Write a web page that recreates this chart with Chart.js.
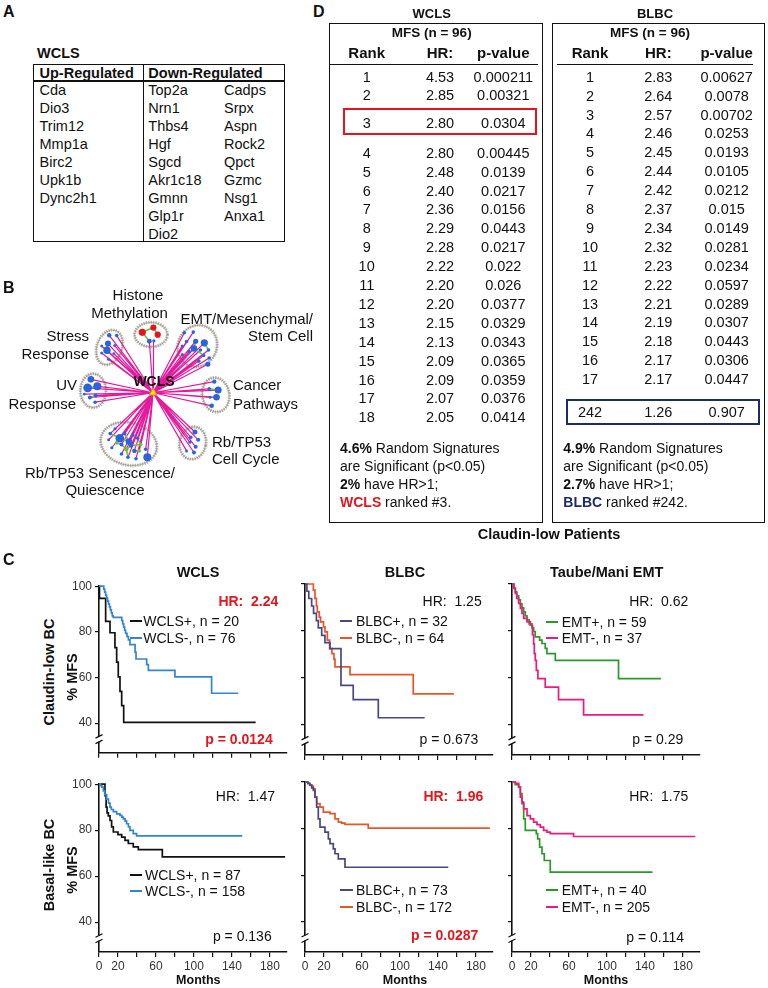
<!DOCTYPE html>
<html><head><meta charset="utf-8">
<script src="https://cdn.jsdelivr.net/npm/chart.js@4.4.0/dist/chart.umd.min.js"></script>
<style>
html,body{margin:0;padding:0;background:#fff;}
#root{position:relative;width:768px;height:988px;overflow:hidden;font-family:"Liberation Sans",Arial,Helvetica,sans-serif;color:#111;}
.t{position:absolute;white-space:pre;line-height:1;z-index:5;}
.bx{position:absolute;box-sizing:border-box;z-index:4;}
canvas{position:absolute;}
</style></head><body><div id="root"></div>
<script>
const FONT='"Liberation Sans", Arial, Helvetica, sans-serif';
// ---------------- Panel A data ----------------
const upRegulated=['Cda','Dio3','Trim12','Mmp1a','Birc2','Upk1b','Dync2h1'];
const downRegulatedA=['Top2a','Nrn1','Thbs4','Hgf','Sgcd','Akr1c18','Gmnn','Glp1r','Dio2'];
const downRegulatedB=['Cadps','Srpx','Aspn','Rock2','Qpct','Gzmc','Nsg1','Anxa1'];
// ---------------- Panel D data ----------------
const wclsRank=[1,2,3,4,5,6,7,8,9,10,11,12,13,14,15,16,17,18];
const wclsHR=['4.53','2.85','2.80','2.80','2.48','2.40','2.36','2.29','2.28','2.22','2.20','2.20','2.15','2.13','2.09','2.09','2.07','2.05'];
const wclsP=['0.000211','0.00321','0.0304','0.00445','0.0139','0.0217','0.0156','0.0443','0.0217','0.022','0.026','0.0377','0.0329','0.0343','0.0365','0.0359','0.0376','0.0414'];
const blbcRank=[1,2,3,4,5,6,7,8,9,10,11,12,13,14,15,16,17];
const blbcHR=['2.83','2.64','2.57','2.46','2.45','2.44','2.42','2.37','2.34','2.32','2.23','2.22','2.21','2.19','2.18','2.17','2.17'];
const blbcP=['0.00627','0.0078','0.00702','0.0253','0.0193','0.0105','0.0212','0.015','0.0149','0.0281','0.0234','0.0597','0.0289','0.0307','0.0443','0.0306','0.0447'];
const blbcOwnRow=['242','1.26','0.907'];
// ---------------- Panel C data: [months, % MFS] ----------------
const xTickValues=[0,20,40,60,80,100,120,140,160,180];
const xTickLabels=[0,20,60,100,140,180];
const yTickValues=[40,60,80,100];
const wclsClaudinPos=[[0,100],[0.5,94.7],[7,84.6],[11.6,79.6],[16.8,73.1],[18.6,66.7],[20.3,60.3],[22.1,53.9],[23.9,47.7],[26,40.3],[165,40.3]];
const wclsClaudinNeg=[[0,100],[5,98.7],[6,97.4],[7,96.1],[8,94.8],[9,93.5],[10,92.2],[11,90.9],[12,89.6],[13,88.3],[14,87],[15,86.3],[24,84.9],[25,83.5],[26,82.1],[27,80.7],[28,79.3],[29.5,77.9],[31,76.5],[32.6,74.4],[38,71.1],[39,68.1],[50.2,65.6],[52,63.1],[80,60.3],[118.6,53.1],[146.6,53.1]];
const blbcClaudinPos=[[0,100],[2,96.9],[4,93.8],[7,90.6],[9,87.5],[12,84.4],[14,81.3],[17.6,78.1],[21,75],[26.3,72.4],[37.9,56.7],[50.8,50.6],[77.2,42.9],[126,42.9]];
const blbcClaudinNeg=[[0,100],[8.8,97.4],[10.5,93.9],[12,90.6],[13,88.1],[15,85.9],[16.4,83.8],[19.5,81.7],[21,79.6],[23.5,76],[25.9,72.4],[28.4,70.3],[30.5,67.9],[31.6,64.6],[47.4,61.3],[114,53.1],[156.8,53.1]];
const emtClaudinPos=[[0,100],[2,98.3],[3.5,96.6],[5,94.9],[7,93.2],[8.8,91.5],[10.5,89.8],[12.3,88.1],[14,86.4],[15.8,84.7],[18,83],[21,81.4],[22.8,79.7],[24.5,77.4],[29.1,76],[31.6,74.6],[35,72.5],[36.8,70.3],[45.6,67.4],[112.2,59.6],[156.8,59.6]];
const emtClaudinNeg=[[0,100],[2,98.1],[3.5,96],[5,93.9],[7,91.7],[8.8,89.6],[10.5,87.4],[12.3,85.3],[15.8,83.8],[19.3,82.4],[21.5,78.4],[22.8,74.4],[23.5,70.3],[24.5,67.4],[25.6,63.1],[27.3,59.6],[35,56],[49,50.6],[75.4,44.1],[138.5,44.1]];
const wclsBasalPos=[[0,100],[6.3,95],[7.5,90],[8.5,87.5],[9.8,86.2],[11.6,84.2],[13.3,81.4],[15.1,79.2],[20,78.1],[23.9,77],[27.4,75.6],[30.9,74.2],[36.1,72.7],[41.4,71.5],[66.7,68.4],[196,68.4]];
const wclsBasalNeg=[[0,100],[1.5,99.4],[3,98.7],[4.6,97.1],[6,95.5],[8.1,93.5],[10,91.8],[11.6,90],[13,89],[15.1,88.1],[18.6,87.1],[22.1,86.4],[24,85.7],[25.6,84.9],[27.5,83.9],[29.1,82.8],[31,81.4],[32.6,79.9],[36.1,78.5],[39.6,77.5],[150.9,77.5]];
const blbcBasalPos=[[0,100],[3,99.4],[5,98.6],[7,97.5],[8.8,96.4],[10.5,93.5],[12.3,89.2],[14,84.2],[15.8,80.6],[21,78.5],[24.6,75.6],[26.3,73.5],[29.8,71.3],[31.6,69.2],[35.1,67],[42.1,63.4],[150.9,63.4]];
const blbcBasalNeg=[[0,100],[3,99.4],[5,98.8],[7,98.2],[8.8,97.1],[10.5,93.5],[12.3,90.7],[15.8,89.2],[19.3,87.1],[26.3,86.4],[31.6,84.2],[35.1,82.8],[38.6,82.3],[42.1,81.8],[66.6,80.2],[194.7,80.2]];
const emtBasalPos=[[0,100],[3.5,98.9],[7,97.8],[8.8,95],[10.5,90.7],[12.3,84.2],[14,79.2],[25.6,77.8],[27,75.6],[29.1,72],[31.6,69.2],[34,66.3],[40.3,61.3],[148,61.3]];
const emtBasalNeg=[[0,100],[3.5,99.4],[7,97.8],[8.8,93.5],[10.5,91.4],[12.3,88.5],[15.8,85.6],[19.3,84.2],[22.8,82.8],[26.3,81.7],[29.8,80.6],[33.3,79.2],[36.8,78.5],[40.3,77.8],[64.9,76.6],[193,76.6]];
// ---------------- Panel B network layout ----------------
const netHub=[152.7,393.5];
const histoneNodes=[[141.5,329.5,3.6,'r'],[153,324.5,3.1,'r'],[157.5,332,3.1,'r'],[148.8,339,2.4,'b'],[153.5,338.5,1.6,'b']];
const stressNodes=[[107.3,332.7,2.2],[115,333,1.8],[106,341.5,3],[105,348.5,3.7],[99.5,344,1.5],[99.5,351.5,1.5],[106.5,358,1.5],[113,343.5,1.5],[112,352,1.4]];
const emtNodes=[[185,330,1.8],[194.3,329.3,1.8],[187.3,339.3,1.8],[196.7,339,2.6],[205.7,340.7,3.6],[201.7,348.3,1.8],[195,346.7,3.3],[190,350,1.8],[210,348.3,1.8],[210.7,356.7,1.8],[205,354,1.8],[200,360,1.8],[209.3,363.3,2.5],[182.7,344,1.5],[183,353,1.5]];
const uvNodes=[[88.3,379.3,3.3],[85,388.3,4.4],[95,386.7,4],[93.3,396.5,2],[87.3,398.5,2],[92.7,403.5,1.8],[81.5,395,1.4]];
const cancerNodes=[[216,381.7,2.2],[220,390.7,3.5],[218.3,398.3,3.3],[210.7,389.3,1.8],[211.7,398.3,1.5],[213.3,407.3,2.3]];
const cellCycleNodes=[[196,435,2.5],[191.7,440.7,1.8],[199.3,443.3,2],[190.7,446,1.5],[196.7,450.7,2],[195,456.7,2],[187.3,455,1.5]];
const senescenceNodes=[[118.3,441.7,4.3],[146.7,461.7,4],[127.7,445,3.3],[108.3,436.7,1.8],[113.3,431.7,1.6],[123.3,436.7,1.8],[131.7,438.3,1.8],[136.7,441.7,1.8],[140,448.3,1.8,'g'],[145,453.3,1.8],[133.3,455,2.2],[125,453.3,2.2,'g'],[120,458.3,1.8],[126.7,461.7,1.8],[135,463.3,1.8],[110,451.7,1.6],[115,446.7,1.8,'g'],[106.7,443.3,1.5],[130,449.3,2.2],[138.3,455,1.8,'g'],[120,448.3,2]];
const greenLinks=[[[141.5,329.5],[153,324.5]],[[153,324.5],[157.5,332]],[[141.5,329.5],[148.8,339]],[[106,341.5],[105,348.5]],[[196.7,339],[195,346.7]],[[195,346.7],[205,354]],[[205.7,340.7],[210,348.3]],[[85,388.3],[95,386.7]],[[93.3,396.5],[87.3,398.5]],[[220,390.7],[210.7,389.3]],[[118.3,441.7],[127.7,445]],[[127.7,445],[130,449.3]],[[118.3,441.7],[115,446.7]],[[125,453.3],[130,449.3]],[[133.3,455],[138.3,455]],[[120,448.3],[125,453.3]],[[123.3,436.7],[127.7,445]],[[108.3,436.7],[118.3,441.7]],[[140,448.3],[136.7,441.7]],[[130,449.3],[140,448.3]],[[115,446.7],[120,448.3]],[[125,453.3],[126.7,461.7]]];
const clusterOutlines=[[150.5,332,17,13,0],[107.5,345.5,13,19,0.35],[198.5,344,20,22.5,0.5],[90.7,391.3,13.3,18,0],[217.5,395.7,14,18.3,-0.15],[193.7,446.7,13.7,17.3,0.2],[127.5,447.5,29.5,22.5,0.25]];

// ---------------- helpers ----------------
const root=document.getElementById('root');
function T(x,y,s,o={}){const d=document.createElement('div');d.className='t';
 if(o.html)d.innerHTML=s;else d.textContent=s;
 d.style.left=x+'px';d.style.top=y+'px';d.style.fontSize=(o.size||14)+'px';
 if(o.bold)d.style.fontWeight='bold';if(o.color)d.style.color=o.color;
 const ax=o.align==='c'?'-50%':o.align==='r'?'-100%':'0';
 d.style.transform='translate('+ax+',-50%)'+(o.rot?' rotate('+o.rot+'deg)':'');
 root.appendChild(d);return d;}
function B(x,y,w,h,css){const d=document.createElement('div');d.className='bx';
 d.style.left=x+'px';d.style.top=y+'px';d.style.width=w+'px';d.style.height=h+'px';
 d.style.cssText+=css;root.appendChild(d);return d;}
const RED='#e3161e',NAVY='#1c2b6b';

// ---------------- Panel labels ----------------
T(3,12,'A',{size:16,bold:true});T(313,12,'D',{size:16,bold:true});
T(3,288,'B',{size:16,bold:true});T(3,560,'C',{size:16,bold:true});

// ---------------- Panel A ----------------
T(37,52.5,'WCLS',{size:14.5,bold:true});
B(33.3,64,251.7,177.7,'border:1.5px solid #111;');
B(33.3,80,251.7,1.5,'background:#111;');
B(142.6,64,1.5,177.7,'background:#111;');
T(39.5,72.5,'Up-Regulated',{size:14.5,bold:true});
T(148.3,72.5,'Down-Regulated',{size:14.5,bold:true});
upRegulated.forEach((g,i)=>T(39.5,90+i*18,g,{size:14.5}));
downRegulatedA.forEach((g,i)=>T(148.3,90+i*18,g,{size:14.5}));
downRegulatedB.forEach((g,i)=>T(224,90+i*18,g,{size:14.5}));

// ---------------- Panel D ----------------
T(431.7,13,'WCLS',{size:13,bold:true,align:'c'});
T(655,13,'BLBC',{size:13,bold:true,align:'c'});
B(329,22.7,214.3,500.6,'border:1.6px solid #111;');
B(551.7,22.7,213.3,500.6,'border:1.6px solid #111;');
T(431.7,33,'MFS (n = 96)',{size:13.5,bold:true,align:'c'});
T(650,33,'MFS (n = 96)',{size:13.5,bold:true,align:'c'});
const colL=[366.7,440,503.3],colR=[590,658.3,726.7];
['Rank','HR:','p-value'].forEach((h,i)=>{T(colL[i],51.7,h,{size:15,bold:true,align:'c'});T(colR[i],51.7,h,{size:15,bold:true,align:'c'});});
B(330,63.5,208.3,1.5,'background:#111;');
B(556.7,63.5,196.6,1.5,'background:#111;');
wclsRank.forEach((r,i)=>{const y=i<2?76.7+i*18.3:(i===2?123.3:152.7+(i-3)*18.9);
 T(colL[0],y,String(r),{size:14.5,align:'c'});T(colL[1],y,wclsHR[i],{size:14.5,align:'c'});T(colL[2],y,wclsP[i],{size:14.5,align:'c'});});
B(342.7,108.3,194,27,'border:2.5px solid '+RED+';');
blbcRank.forEach((r,i)=>{const y=76.7+i*18.9;
 T(colR[0],y,String(r),{size:14.5,align:'c'});T(colR[1],y,blbcHR[i],{size:14.5,align:'c'});T(colR[2],y,blbcP[i],{size:14.5,align:'c'});});
blbcOwnRow.forEach((v,i)=>T(colR[i],412.3,v,{size:14.5,align:'c'}));
B(566,399.3,194,26,'border:2.5px solid '+NAVY+';');
const footY=[448.3,466,484,501.7];
T(340,footY[0],'<b>4.6%</b> Random Signatures',{size:14,html:true});
T(340,footY[1],'are Significant (p&lt;0.05)',{size:14,html:true});
T(340,footY[2],'<b>2%</b> have HR&gt;1;',{size:14,html:true});
T(340,footY[3],'<b style="color:'+RED+'">WCLS</b> ranked #3.',{size:14,html:true});
T(563.3,footY[0],'<b>4.9%</b> Random Signatures',{size:14,html:true});
T(563.3,footY[1],'are Significant (p&lt;0.05)',{size:14,html:true});
T(563.3,footY[2],'<b>2.7%</b> have HR&gt;1;',{size:14,html:true});
T(563.3,footY[3],'<b style="color:'+NAVY+'">BLBC</b> ranked #242.',{size:14,html:true});
T(549,534,'Claudin-low Patients',{size:14.5,bold:true,align:'c'});

// ---------------- Panel B labels ----------------
T(138,293.5,'Histone',{size:15,align:'c'});
T(129.5,311.5,'Methylation',{size:15,align:'c'});
T(313,317.5,'EMT/Mesenchymal/',{size:15,align:'r'});
T(313,334.5,'Stem Cell',{size:15,align:'r'});
T(89,334.5,'Stress',{size:15,align:'r'});
T(89,352.5,'Response',{size:15,align:'r'});
T(77,384,'UV',{size:15,align:'r'});
T(76,402.5,'Response',{size:15,align:'r'});
T(154,380.5,'WCLS',{size:14,bold:true,align:'c'});
T(233,384,'Cancer',{size:15});
T(233,402.5,'Pathways',{size:15});
T(212,440.5,'Rb/TP53',{size:15});
T(212,457.5,'Cell Cycle',{size:15});
T(100,472,'Rb/TP53 Senescence/',{size:15,align:'c'});
T(105,489,'Quiescence',{size:15,align:'c'});

// ---------------- Panel B network chart ----------------
(function(){
 const c=document.createElement('canvas');c.width=330;c.height=200;c.style.left='0px';c.style.top='280px';root.appendChild(c);
 const blueGroups=[stressNodes,emtNodes,uvNodes,cancerNodes,cellCycleNodes,senescenceNodes];
 const spokes=[];
 histoneNodes.filter(n=>n[3]==='b').forEach(n=>{spokes.push({x:netHub[0],y:netHub[1]},{x:n[0],y:n[1]});});
 blueGroups.forEach(g=>g.forEach(n=>{spokes.push({x:netHub[0],y:netHub[1]},{x:n[0],y:n[1]});}));
 spokes.push({x:netHub[0],y:netHub[1]});
 const greenSets=greenLinks.map(l=>({type:'scatter',showLine:true,data:[{x:l[0][0],y:l[0][1]},{x:l[1][0],y:l[1][1]}],borderColor:'#74c043',borderWidth:1.6,pointRadius:0,order:2}));
 const allNodes=[...histoneNodes,...blueGroups.flat()];
 const colorOf=k=>k==='r'?'#e8141b':k==='g'?'#6cbf3a':'#2a63dc';
 new Chart(c,{type:'scatter',
  data:{datasets:[
   {data:netHub.length?[{x:netHub[0],y:netHub[1]}]:[],pointStyle:'triangle',pointRadius:4.5,backgroundColor:'#f5dc14',borderColor:'#d99a00',borderWidth:1,order:0},
   {data:allNodes.map(n=>({x:n[0],y:n[1],r:n[2],k:n[3]||'b'})),pointRadius:ctx=>ctx.raw?ctx.raw.r:2,backgroundColor:ctx=>ctx.raw?colorOf(ctx.raw.k):'#2a63dc',borderWidth:0,order:1},
   ...greenSets,
   {showLine:true,data:spokes,borderColor:'#e31a9c',borderWidth:1.2,pointRadius:0,borderJoinStyle:'round',borderCapStyle:'round',order:3}
  ]},
  options:{responsive:false,animation:false,devicePixelRatio:1,layout:{padding:0},
   plugins:{legend:{display:false},tooltip:{enabled:false}},
   scales:{x:{type:'linear',display:false,min:0,max:330},y:{type:'linear',display:false,min:280,max:480,reverse:true}}},
  plugins:[{id:'outlines',beforeDatasetsDraw(chart){const ctx=chart.ctx,sx=chart.scales.x,sy=chart.scales.y;ctx.save();
    clusterOutlines.forEach(e=>{const cx=sx.getPixelForValue(e[0]),cy=sy.getPixelForValue(e[1]);
     const rx=Math.abs(sx.getPixelForValue(e[0]+e[2])-cx),ry=Math.abs(sy.getPixelForValue(e[1]+e[3])-cy);
     ctx.beginPath();ctx.ellipse(cx,cy,rx,ry,e[4],0,Math.PI*2);ctx.fillStyle='#fff';ctx.fill();
     ctx.strokeStyle='#b9b5ab';ctx.lineWidth=3.2;ctx.setLineDash([1.4,1]);ctx.stroke();
     ctx.setLineDash([]);ctx.lineWidth=0.6;ctx.strokeStyle='#8f8b82';ctx.stroke();});
    ctx.restore();}}]
 });
})();

// ---------------- Panel C ----------------
T(198,571.7,'WCLS',{size:14.5,bold:true,align:'c'});
T(405,571.7,'BLBC',{size:14.5,bold:true,align:'c'});
T(606.7,571.7,'Taube/Mani EMT',{size:14.5,bold:true,align:'c'});
T(49,671.7,'Claudin-low BC',{size:14.5,bold:true,align:'c',rot:-90});
T(71.7,677,'% MFS',{size:14.5,bold:true,align:'c',rot:-90});
T(49,865,'Basal-like BC',{size:14.5,bold:true,align:'c',rot:-90});
T(71.7,870,'% MFS',{size:14.5,bold:true,align:'c',rot:-90});
['198.3','405','606'].forEach(x=>T(+x,980,'Months',{size:12.5,bold:true,align:'c'}));

const BREAK_AT=33;
const breakPlugin={id:'axisBreak',afterDraw(chart){const ctx=chart.ctx,y=chart.scales.y;const py=y.getPixelForValue(BREAK_AT);const px=chart.chartArea.left;
 ctx.save();ctx.fillStyle='#fff';ctx.fillRect(px-4,py-2.5,8,5);ctx.strokeStyle='#111';ctx.lineWidth=1.3;ctx.beginPath();
 ctx.moveTo(px-3.5,py-1);ctx.lineTo(px+3.5,py-4.5);ctx.moveTo(px-3.5,py+4.5);ctx.lineTo(px+3.5,py+1);ctx.stroke();ctx.restore();}};

function km(left,top,plotH,xLabels,yLabels,series){
 const xh=xLabels?24:8;const c=document.createElement('canvas');c.width=240;c.height=8+plotH+xh;
 c.style.left=left+'px';c.style.top=top+'px';root.appendChild(c);
 new Chart(c,{type:'line',
  data:{datasets:series.map(s=>({data:s[0].map(p=>({x:p[0],y:p[1]})),borderColor:s[1],borderWidth:1.7,stepped:true,pointRadius:0,fill:false,clip:false}))},
  options:{responsive:false,animation:false,devicePixelRatio:1,parsing:false,
   layout:{padding:{top:8,right:12,left:0,bottom:0}},
   plugins:{legend:{display:false},tooltip:{enabled:false}},
   scales:{
    x:{type:'linear',min:0,max:198,bounds:'data',
     afterBuildTicks:a=>{a.ticks=xTickValues.map(v=>({value:v}));},afterFit:a=>{a.height=xh;},
     grid:{drawOnChartArea:false,drawTicks:true,tickLength:5,color:'#111',lineWidth:1.2},
     border:{display:true,color:'#111',width:1.6},
     ticks:{display:xLabels,autoSkip:false,maxRotation:0,padding:2,color:'#333',font:{size:12,family:FONT},callback:v=>xTickLabels.includes(v)?String(v):''}},
    y:{type:'linear',min:27,max:100,bounds:'data',
     afterBuildTicks:a=>{a.ticks=yTickValues.map(v=>({value:v}));},afterFit:a=>{a.width=40;},
     grid:{drawOnChartArea:false,drawTicks:true,tickLength:4,color:'#111',lineWidth:1.2},
     border:{display:true,color:'#111',width:1.6},
     ticks:{display:yLabels,padding:3,color:'#333',font:{size:12,family:FONT}}}
   }},
  plugins:[breakPlugin]});
}
const BLACK='#111',BLUE='#3486cc',PURPLE='#4a4785',ORANGE='#e5562a',GREEN='#2c982c',PINK='#ec1a7d';
km(59,576,171,false,true,[[wclsClaudinNeg,BLUE],[wclsClaudinPos,BLACK]]);
km(265,576,171,false,false,[[blbcClaudinPos,PURPLE],[blbcClaudinNeg,ORANGE]]);
km(472,576,171,false,false,[[emtClaudinNeg,PINK],[emtClaudinPos,GREEN]]);
km(59,774,170,true,true,[[wclsBasalNeg,BLUE],[wclsBasalPos,BLACK]]);
km(265,774,170,true,false,[[blbcBasalPos,PURPLE],[blbcBasalNeg,ORANGE]]);
km(472,774,170,true,false,[[emtBasalNeg,PINK],[emtBasalPos,GREEN]]);

// legends and annotations
function leg(x1,x2,tx,y,color,label){B(x1,y-1,x2-x1,2,'background:'+color+';');T(tx,y,label,{size:14});}
leg(130,141.7,143.3,620.7,BLACK,'WCLS+, n = 20');leg(130,141.7,143.3,637.7,BLUE,'WCLS-, n = 76');
leg(340,351.7,356,620.7,PURPLE,'BLBC+, n = 32');leg(340,351.7,356,637.7,ORANGE,'BLBC-, n = 64');
leg(546,558.3,561.7,621.7,GREEN,'EMT+, n = 59');leg(546,558.3,561.7,638.3,PINK,'EMT-, n = 37');
leg(130,141.7,145,875,BLACK,'WCLS+, n = 87');leg(130,141.7,145,890.7,BLUE,'WCLS-, n = 158');
leg(340,353.3,356,890,PURPLE,'BLBC+, n = 73');leg(340,353.3,356,906.7,ORANGE,'BLBC-, n = 172');
leg(546,558,561.7,890,GREEN,'EMT+, n = 40');leg(546,558,561.7,906.7,PINK,'EMT-, n = 205');
T(278.3,601,'HR:  2.24',{size:14,bold:true,color:RED,align:'r'});
T(481.7,601,'HR:  1.25',{size:14,align:'r'});
T(688.3,601,'HR:  0.62',{size:14,align:'r'});
T(275,796,'HR:  1.47',{size:14,align:'r'});
T(483.3,796,'HR:  1.96',{size:14,bold:true,color:RED,align:'r'});
T(688.3,796,'HR:  1.75',{size:14,align:'r'});
T(272.7,739.3,'p = 0.0124',{size:14,bold:true,color:RED,align:'r'});
T(478.3,739.3,'p = 0.673',{size:14,align:'r'});
T(683.3,739.3,'p = 0.29',{size:14,align:'r'});
T(271.7,935.7,'p = 0.136',{size:14,align:'r'});
T(478.3,935,'p = 0.0287',{size:14,bold:true,color:RED,align:'r'});
T(684,936.7,'p = 0.114',{size:14,align:'r'});
</script></body></html>
